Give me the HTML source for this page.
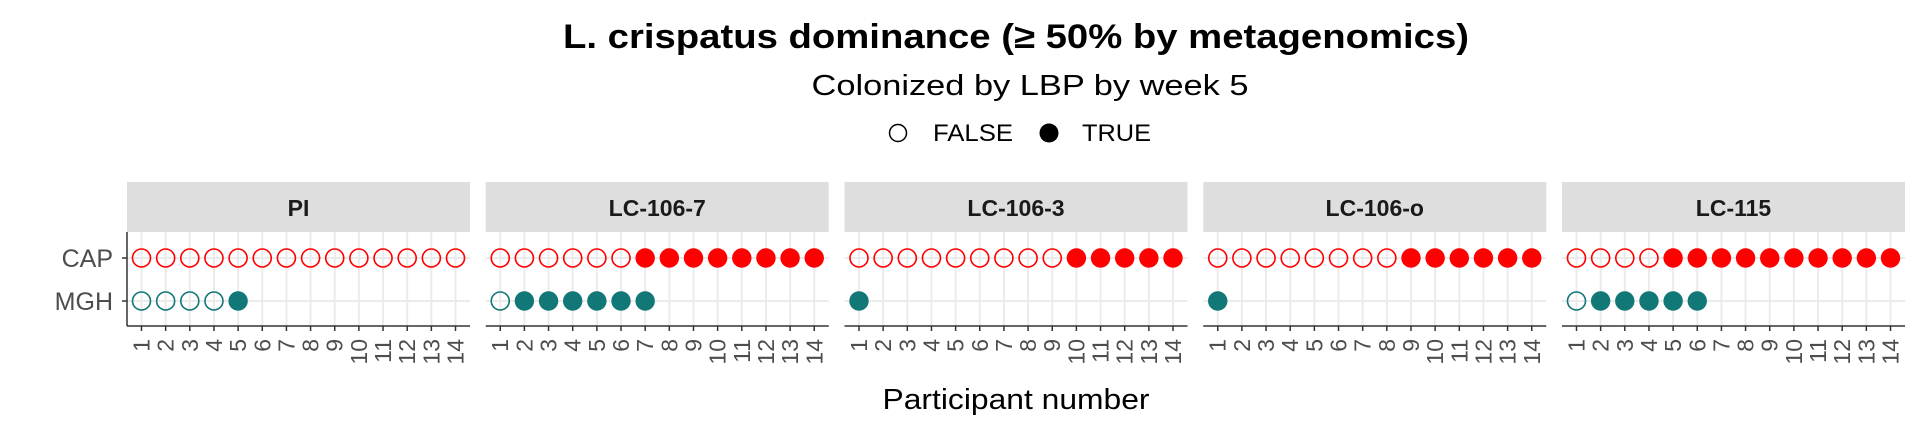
<!DOCTYPE html>
<html><head><meta charset="utf-8"><style>
html,body{margin:0;padding:0;background:#fff;}
svg{display:block;font-family:"Liberation Sans",Arial,sans-serif;}
</style></head><body>
<svg id="chart" width="1920" height="422" viewBox="0 0 1920 422" xmlns="http://www.w3.org/2000/svg">
<text x="1016" y="48" text-anchor="middle" font-size="34" font-weight="bold" fill="#000" textLength="906" lengthAdjust="spacingAndGlyphs">L. crispatus dominance (≥ 50% by metagenomics)</text>
<text x="1030" y="95" text-anchor="middle" font-size="29" fill="#000" textLength="437" lengthAdjust="spacingAndGlyphs">Colonized by LBP by week 5</text>
<g>
<circle cx="898" cy="133" r="8.5" fill="none" stroke="#000" stroke-width="1.5"/>
<text x="933" y="141" font-size="24" fill="#000" textLength="80" lengthAdjust="spacingAndGlyphs">FALSE</text>
<circle cx="1049" cy="133" r="9.5" fill="#000"/>
<text x="1082" y="141" font-size="24" fill="#000" textLength="69" lengthAdjust="spacingAndGlyphs">TRUE</text>
</g>
<text x="1016" y="409" text-anchor="middle" font-size="29" fill="#000" textLength="267" lengthAdjust="spacingAndGlyphs">Participant number</text>
<g id="panels"></g>
</svg>
<script>
const panelNames = ["PI","LC-106-7","LC-106-3","LC-106-o","LC-115"];
const sites = ["CAP","MGH"];
const xTicks = [1,2,3,4,5,6,7,8,9,10,11,12,13,14];
// colonized flags per participant (1 = TRUE filled, 0 = FALSE open)
const capPI    = [0,0,0,0,0,0,0,0,0,0,0,0,0,0];
const mghPI    = [0,0,0,0,1];
const cap1067  = [0,0,0,0,0,0,1,1,1,1,1,1,1,1];
const mgh1067  = [0,1,1,1,1,1,1];
const cap1063  = [0,0,0,0,0,0,0,0,0,1,1,1,1,1];
const mgh1063  = [1];
const cap106o  = [0,0,0,0,0,0,0,0,1,1,1,1,1,1];
const mgh106o  = [1];
const cap115   = [0,0,0,0,1,1,1,1,1,1,1,1,1,1];
const mgh115   = [0,1,1,1,1,1];
const capData = [capPI,cap1067,cap1063,cap106o,cap115];
const mghData = [mghPI,mgh1067,mgh1063,mgh106o,mgh115];
const siteColors = {CAP:"#ff0000", MGH:"#117777"};

const NS="http://www.w3.org/2000/svg";
const g=document.getElementById("panels");
const P0=127, STEP=358.75, PW=343, STRIP_T=182, STRIP_B=232, PB=326;
const yPos={CAP:258, MGH:301};
function mk(tag,attrs,parent){const e=document.createElementNS(NS,tag);for(const k in attrs)e.setAttribute(k,attrs[k]);(parent||g).appendChild(e);return e;}
function xScale(left,v){return left+(v-0.4)*PW/14.2;}

panelNames.forEach((name,pi)=>{
  const left=P0+pi*STEP;
  const pg=mk("g",{});
  
  
  const strip=mk("rect",{x:left,y:STRIP_T,width:PW,height:STRIP_B-STRIP_T,fill:"#dedede"},pg);
  
  
  const st=mk("text",{x:left+PW/2,y:216,"text-anchor":"middle","font-size":"23","font-weight":"bold",fill:"#1a1a1a"},pg);
  st.textContent=name;
  
  
  xTicks.forEach(t=>{
    const gl=mk("line",{x1:xScale(left,t),x2:xScale(left,t),y1:STRIP_B,y2:PB,stroke:"#ebebeb","stroke-width":"2"},pg);
    
    
  });
  sites.forEach(s=>{
    const gl=mk("line",{x1:left,x2:left+PW,y1:yPos[s],y2:yPos[s],stroke:"#ebebeb","stroke-width":"2"},pg);
    
    
  });
  const ax=mk("line",{x1:left,x2:left+PW,y1:PB,y2:PB,stroke:"#333","stroke-width":"1.5"},pg);
  
  
  xTicks.forEach(t=>{
    const x=xScale(left,t);
    const tk=mk("line",{x1:x,x2:x,y1:PB,y2:PB+5,stroke:"#333","stroke-width":"1.5"},pg);
    
    
    const tl=mk("text",{x:0,y:0,transform:`translate(${x+8},${PB+13}) rotate(-90)`,"text-anchor":"end","font-size":"23",fill:"#4d4d4d"},pg);
    tl.textContent=t;
    
    
  });
  if(pi===0){
    const ya=mk("line",{x1:left,x2:left,y1:STRIP_B,y2:PB,stroke:"#333","stroke-width":"1.5"},pg);
    
    
    sites.forEach(s=>{
      const tk=mk("line",{x1:left-5,x2:left,y1:yPos[s],y2:yPos[s],stroke:"#333","stroke-width":"1.5"},pg);
      
      
      const tl=mk("text",{x:left-14,y:yPos[s]+9,"text-anchor":"end","font-size":"25","fill":"#4d4d4d"},pg);
      tl.textContent=s;
      
      
    });
  }
  [["CAP",capData[pi]],["MGH",mghData[pi]]].forEach(([s,arr])=>{
    arr.forEach((v,i)=>{
      const cx=xScale(left,i+1), cy=yPos[s];
      const c = v ? mk("circle",{cx:cx,cy:cy,r:9.7,fill:siteColors[s]},pg)
                  : mk("circle",{cx:cx,cy:cy,r:9,fill:"none",stroke:siteColors[s],"stroke-width":"1.6"},pg);
      
      
    });
  });
});
</script>
</body></html>
